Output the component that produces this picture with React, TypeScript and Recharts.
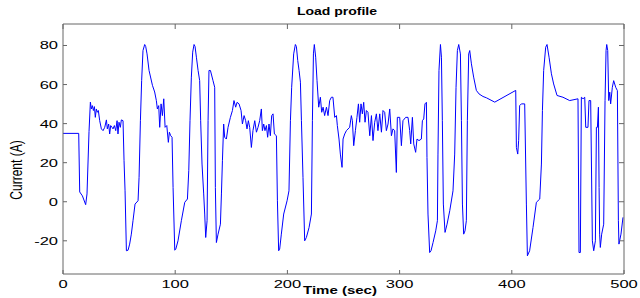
import React from "react";
import { LineChart, Line, XAxis, YAxis } from "recharts";

// time (sec) and current (A)
const timeSec = [
  0, 14, 14.9, 17.3, 20.2, 21.4, 23.2, 24.4, 25.3, 26.2, 27.1, 28, 28.8, 29.7, 30.6, 31.5,
  32.7, 34.2, 35.7, 37.2, 38.7, 39.5, 40.7, 41.6, 42.5, 43.7, 44.6, 45.8, 47, 48.2, 49, 49.9,
  51.1, 52, 53.5, 54.4, 55.3, 56.5, 58, 59.4, 60.9, 62.4, 64.2, 66.9, 67.8, 69, 70.1, 71.3,
  72.8, 73.7, 74.9, 76.7, 79.7, 81.7, 83.2, 84.1, 85.3, 86.2, 87.4, 88.6, 89.8, 91, 92.5, 93.9,
  94.8, 96, 97.2, 98.1, 99.6, 100.5, 102.5, 105.5, 108.5, 110.9, 112.1, 113.2, 114.4, 115.6,
  116.8, 117.7, 118.9, 120.4, 121.8, 122.7, 123.9, 125.4, 126.3, 127.2, 128.4, 129.3, 130.1,
  131.4, 133.7, 135.2, 135.8, 136.7, 138.2, 140.3, 141.2, 142.1, 143.2, 144.1, 145.6, 147.1,
  149.2, 151, 152.4, 153.9, 155.1, 156.9, 158.7, 159.9, 161.4, 162.8, 164, 165.2, 166.4, 167.9,
  169.3, 170.9, 172.4, 173.8, 175.3, 176.8, 177.7, 178.9, 180, 181.3, 182.4, 183.6, 184.8, 186,
  187.2, 188.4, 190.2, 191.1, 192.2, 193.1, 194.6, 196.7, 199.7, 201.4, 202.7, 203.8, 205.6,
  207.1, 208, 209.2, 210.4, 211.6, 212.5, 213.9, 215.4, 216.9, 219.3, 221.4, 222.3, 223.2, 224,
  225.2, 226.4, 227.9, 229.4, 230.6, 231.8, 233.2, 234.8, 236.2, 237.7, 239.2, 240.6, 242.2,
  243.7, 244.5, 246, 247.2, 248.7, 249.6, 251.1, 252.6, 255.5, 257, 257.9, 259.1, 260.6, 262,
  263.3, 264.4, 265.6, 266.8, 268, 269.2, 270.4, 271.8, 273.4, 274.9, 276.3, 277.8, 279.3,
  280.7, 282.3, 283.8, 285.2, 286.7, 288.2, 289.7, 291.2, 292.7, 294.1, 295.6, 297.1, 298,
  300.1, 301.6, 303, 305.4, 307.5, 309, 309.9, 311.4, 312.6, 314.3, 315.5, 317.3, 319.4, 320.3,
  321.5, 322.6, 323.9, 324.4, 325.3, 326.8, 328, 329.8, 332.2, 333.7, 334.2, 335.1, 336.4,
  337.3, 338.1, 339, 340.5, 342.3, 344.7, 347.6, 349.1, 350.3, 351.5, 352.7, 354.2, 355.1, 356,
  357.1, 358.3, 359.5, 360.4, 361.6, 362.5, 364, 366, 368.4, 370.8, 374.3, 377.4, 384.8, 403.5,
  404.1, 405.3, 406.1, 407, 408.5, 411.5, 413, 413.9, 415.9, 418.9, 421.9, 424.9, 426.4, 427.3,
  428.4, 430.2, 431.4, 433.2, 435.3, 437.3, 440.3, 445.6, 451.6, 459, 459.9, 461.1, 462, 463.5,
  465, 465.9, 467.9, 468.8, 470.3, 471.8, 473, 474.5, 475.4, 476.3, 477.2, 477.8, 478.3, 478.9,
  480.1, 481.9, 483.1, 484, 484.6, 485.5, 486.4, 487.3, 488.1, 489.6, 490.8, 492.6, 494.1, 495,
  495.5, 497.3, 499.1,
];

const currentA = [
  35, 35, 5, 3, -1.5, 4, 36, 51, 47.5, 49.2, 46.7, 48.7, 43.2, 47.5, 45.8, 46.7,
  41.5, 37.3, 36.4, 38.1, 41.9, 37.3, 39.8, 34.7, 39, 38.1, 37.3, 39, 36.4, 41.5, 34.7, 40.7,
  38.1, 41.9, 41.5, 21, 5.6, -25.1, -24.8, -21.7, -16.6, -9.7, -1.2, 0.5, 12.5, 41.5, 62, 77.4,
  80.5, 79.5, 75.7, 67.2, 59.6, 56.2, 51.8, 47.5, 49.2, 38.1, 50.1, 44.1, 52.7, 38.1, 39, 30.4,
  35.6, 33.8, 33, 7.3, -24.8, -24.3, -20, -9.7, -0.3, 1.4, 15.9, 41.5, 63.8, 76.6,
  80.5, 79.5, 74, 67.2, 62, 41.5, 19.3, 4, -6.3, -18.3, -9.7, 41.5, 67.2,
  67.2, 62, 58.6, 7.3, -20.9, -16.6, -11.5, 4, 21, 39.8, 33, 32.1, 38.1,
  43.2, 46.7, 51.8, 48.4, 50.9, 50.1, 46.7, 39.8, 44.1, 41.5, 37.3, 41.5, 38.1, 27.8,
  36.4, 41.5, 35.6, 38.1, 41.5, 47.5, 36.4, 39.8, 36.4, 39, 33, 39.8, 33.8, 44.1,
  45, 34.7, 33.8, 0.5, -25.1, -24.3, -16.6, -6.3, 0.5, 5.6, 41.5, 58.6, 75.7,
  80.5, 79.5, 72.3, 67.2, 61.2, 41.5, 12.5, -20, -18.3, -13.2, -6.3, 41.5, 75.7, 80.5,
  74, 62, 48.4, 53.5, 45.8, 48.4, 44.1, 48.4, 44.1, 51.8, 53.5, 53.5, 43.2,
  44.1, 39, 32.1, 24.4, 17.6, 32.1, 34.7, 36.4, 38.1, 44.1, 41.5, 28.7, 36.4, 43.2,
  50.1, 40.7, 50.1, 45, 50.9, 40.7, 46.7, 45.8, 33.8, 44.1, 31.3, 40.7, 45,
  36.4, 45, 35.6, 46.7, 45.8, 36.4, 39.8, 47.5, 33.8, 37.3, 36.4, 15, 43.2,
  43.2, 28.7, 41.5, 43.2, 43.2, 36.4, 29.6, 43.2, 29.6, 25.3, 32.1, 31.3, 32.1, 41.5,
  42.4, 50.1, 50.9, 22.7, -6.3, -26, -25.1, -20.9, -14.9, -9.7, 24.4, 67.2, 80.5,
  74, 41.5, -1.2, -15.7, -11.5, -4.6, 5.6, 24.4, 58.6, 77.4, 80.5, 75.7, 41.5, -1.2,
  -16.6, -14.9, -9.7, 41.5, 75.7, 77.4, 70.6, 63.8, 57, 55.2, 53.9, 53.2, 51, 57,
  27.8, 24.4, 31.3, 49.2, 50.1, 50.1, -1.2, -27.7, -25.1, -13.2, -0.3, 1.4, 19.3, 46.7,
  67.2, 79.1, 80.5, 74, 65.5, 60.3, 54.4, 53.5, 51.8, 52.7, -26, -26, 53.5, 52.7,
  53.5, 38.1, 38.1, 51.8, 51.8, -20, -25.1, -20, 38.1, 38.1, 48.4, 7.3, -16.6, -23.4,
  -16.6, -11.5, 51.8, 77.4, 80.5, 77.4, 51.8, 56.1, 50.1, 58.6, 62, 58.6, 56.9, -9.7,
  -21.7, -16.6, -8,
];

const xTicks = [0, 100, 200, 300, 400, 500];
const yTicks = [-20, 0, 20, 40, 60, 80];

const data = timeSec.map((t, i) => ({ t, a: currentA[i] }));

const axisColor = "#666";
const font = "'Liberation Sans', Arial, sans-serif";

function XTick({ x, y, payload }: any) {
  return (
    <g transform={`translate(${x},${y + 8}) scale(1.5,1)`}>
      <text x={0} y={0} textAnchor="middle" fontSize={11} fontFamily={font} fill="#000">
        {payload.value}
      </text>
    </g>
  );
}

function YTick({ x, y, payload }: any) {
  return (
    <g transform={`translate(${x},${y + 4}) scale(1.5,1)`}>
      <text x={0} y={0} textAnchor="end" fontSize={11} fontFamily={font} fill="#000">
        {payload.value}
      </text>
    </g>
  );
}

const NoLabel = () => <g />;

export default function App() {
  return (
    <div style={{ position: "absolute", left: 0, top: 0, width: 640, height: 298, background: "#fff" }}>
      <div
        style={{
          position: "absolute",
          left: 337,
          top: 6,
          transform: "translateX(-50%) scaleX(1.4)",
          fontFamily: font,
          fontSize: 10,
          fontWeight: "bold",
          whiteSpace: "nowrap",
          lineHeight: "12px",
        }}
      >
        Load profile
      </div>
      <div
        style={{
          position: "absolute",
          left: 340,
          top: 285,
          transform: "translateX(-50%) scaleX(1.5)",
          fontFamily: font,
          fontSize: 10,
          fontWeight: "bold",
          whiteSpace: "nowrap",
          lineHeight: "12px",
        }}
      >
        Time (sec)
      </div>
      <div
        style={{
          position: "absolute",
          left: 17,
          top: 170,
          transform: "translate(-50%,-50%) scaleX(1.3) rotate(-90deg)",
          fontFamily: font,
          fontSize: 12,
          whiteSpace: "nowrap",
          lineHeight: "14px",
        }}
      >
        Current (A)
      </div>
      <LineChart width={640} height={298} data={data} margin={{ top: 23, right: 15, bottom: 0, left: 0 }}>
        <XAxis
          dataKey="t"
          type="number"
          domain={[0, 500]}
          allowDataOverflow
          ticks={xTicks}
          interval={0}
          height={24}
          tickSize={-4}
          tickMargin={10}
          stroke={axisColor}
          tick={<XTick />}
        />
        <XAxis
          xAxisId="top"
          dataKey="t"
          orientation="top"
          type="number"
          domain={[0, 500]}
          allowDataOverflow
          ticks={xTicks}
          interval={0}
          height={1}
          tickSize={-5}
          stroke={axisColor}
          tick={NoLabel}
        />
        <YAxis
          type="number"
          domain={[-37, 91]}
          allowDataOverflow
          ticks={yTicks}
          interval={0}
          width={63}
          tickSize={-4}
          tickMargin={9}
          stroke={axisColor}
          tick={<YTick />}
        />
        <YAxis
          yAxisId="right"
          orientation="right"
          type="number"
          domain={[-37, 91]}
          allowDataOverflow
          ticks={yTicks}
          interval={0}
          width={1}
          tickSize={-5}
          stroke={axisColor}
          tick={NoLabel}
        />
        <Line
          dataKey="a"
          type="linear"
          stroke="#0000ff"
          strokeWidth={1}
          dot={false}
          isAnimationActive={false}
        />
        <Line
          xAxisId="top"
          yAxisId="right"
          dataKey="a"
          stroke="none"
          dot={false}
          legendType="none"
          isAnimationActive={false}
        />
      </LineChart>
    </div>
  );
}
